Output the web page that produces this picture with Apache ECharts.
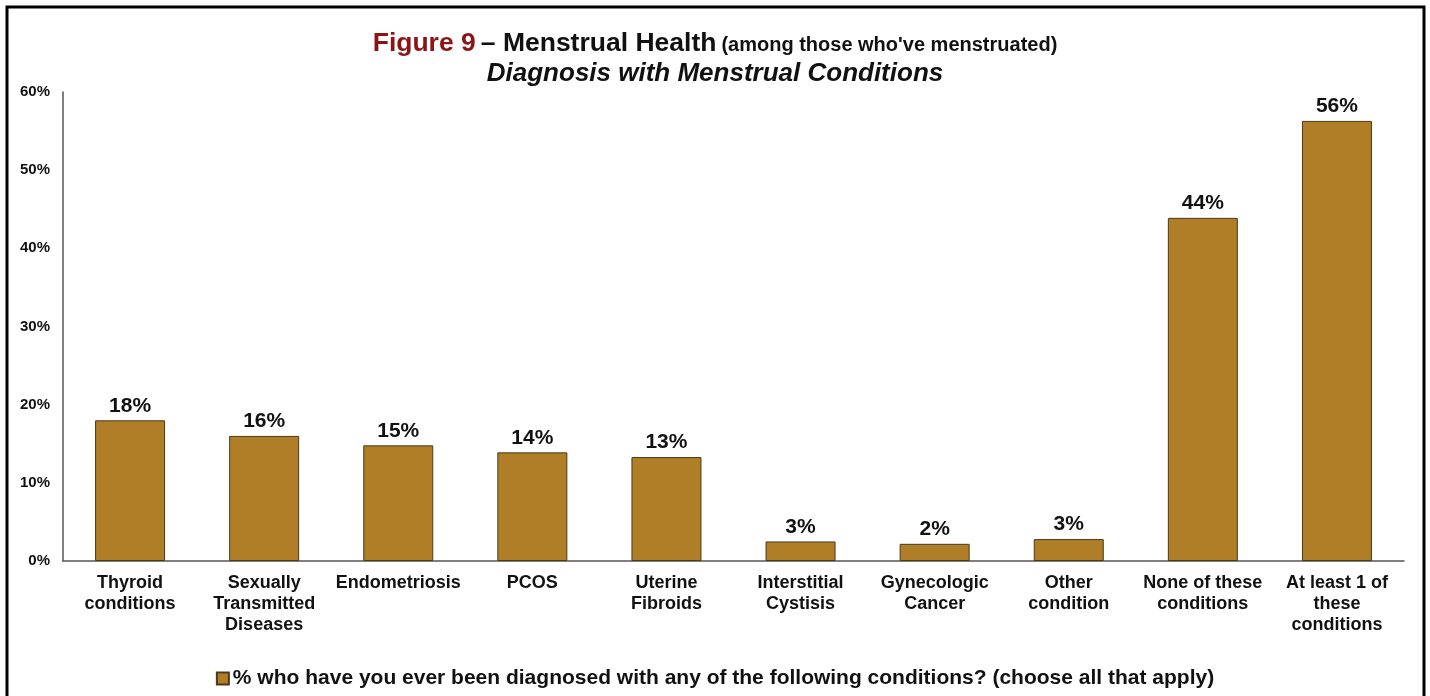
<!DOCTYPE html>
<html>
<head>
<meta charset="utf-8">
<script src="https://cdn.jsdelivr.net/npm/echarts@6/dist/echarts.min.js"></script>
<style>
  html, body { margin: 0; padding: 0; background: #fff; }
  #chart { width: 1430px; height: 696px; }
</style>
</head>
<body>
<div id="chart"></div>
<script>
// categories and values
const categories = [
  'Thyroid\nconditions',
  'Sexually\nTransmitted\nDiseases',
  'Endometriosis',
  'PCOS',
  'Uterine\nFibroids',
  'Interstitial\nCystisis',
  'Gynecologic\nCancer',
  'Other\ncondition',
  'None of these\nconditions',
  'At least 1 of\nthese\nconditions'
];
const values = [18.0, 16.0, 14.8, 13.9, 13.3, 2.5, 2.2, 2.8, 43.9, 56.3];
const seriesName = '% who have you ever been diagnosed with any of the following conditions? (choose all that apply)';
const yTicks = [0, 10, 20, 30, 40, 50, 60];

const font = 'Liberation Sans, Arial, sans-serif';
const chart = echarts.init(document.getElementById('chart'));

const option = {
  backgroundColor: '#fff',
  textStyle: { fontFamily: font },
  title: {
    left: 'center',
    top: 25,
    itemGap: 4,
    text: '{red|Figure 9} {blk|– Menstrual Health} {sm|(among those who\'ve menstruated)}',
    subtext: 'Diagnosis with Menstrual Conditions',
    textStyle: {
      rich: {
        red: { color: '#8B1515', fontSize: 26.5, fontWeight: 'bold', fontFamily: font },
        blk: { color: '#111', fontSize: 26.5, fontWeight: 'bold', fontFamily: font },
        sm: { color: '#111', fontSize: 20, fontWeight: 'bold', fontFamily: font, padding: [4, 0, 0, 0] }
      }
    },
    subtextStyle: {
      color: '#111', fontSize: 26, fontWeight: 'bold', fontStyle: 'italic', fontFamily: font
    }
  },
  legend: {
    bottom: 2,
    left: 'center',
    icon: 'rect',
    itemWidth: 12,
    itemHeight: 12,
    itemGap: 4,
    data: [seriesName],
    textStyle: { color: '#111', fontSize: 21, fontWeight: 'bold', fontFamily: font, padding: [0, 0, 0, -1] }
  },
  grid: { left: 63, right: 26, top: 92, bottom: 135 },
  xAxis: {
    type: 'category',
    data: categories,
    axisLine: { lineStyle: { color: '#555', width: 1.5 } },
    axisTick: { show: false },
    axisLabel: {
      color: '#111', fontSize: 18, fontWeight: 'bold', fontFamily: font,
      lineHeight: 21, margin: 12, interval: 0
    }
  },
  yAxis: {
    type: 'value',
    min: 0,
    max: 60,
    interval: 10,
    axisLine: { show: true, lineStyle: { color: '#555', width: 1.5 } },
    axisTick: { show: false },
    splitLine: { show: false },
    axisLabel: {
      color: '#111', fontSize: 15, fontWeight: 'bold', fontFamily: font, margin: 13,
      formatter: v => yTicks.includes(v) ? v + '%' : ''
    }
  },
  series: [{
    name: seriesName,
    type: 'bar',
    data: values,
    barWidth: 70,
    itemStyle: { color: '#AF7E27', borderColor: '#4A3A1A', borderWidth: 1 },
    label: {
      show: true,
      position: 'top',
      distance: 4,
      color: '#111',
      fontSize: 21,
      fontWeight: 'bold',
      fontFamily: font,
      formatter: p => Math.round(p.value) + '%'
    }
  }],
  graphic: [{
    type: 'rect',
    shape: { x: 7, y: 7, width: 1417, height: 720 },
    style: { fill: 'none', stroke: '#000', lineWidth: 3 },
    silent: true
  }]
};

chart.setOption(option);
</script>
</body>
</html>
